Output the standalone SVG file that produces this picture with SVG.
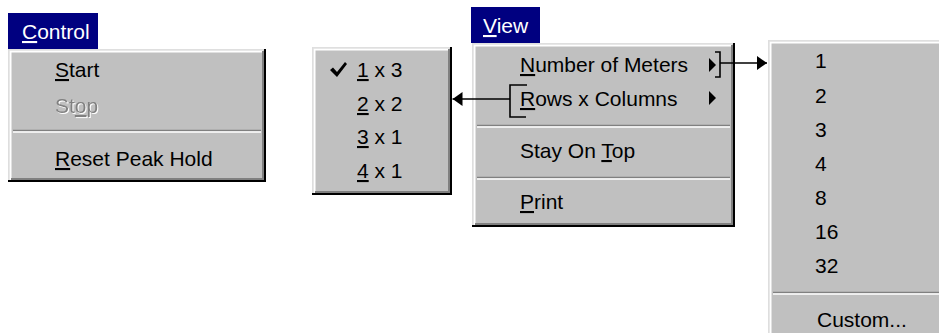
<svg xmlns="http://www.w3.org/2000/svg" width="939" height="333" viewBox="0 0 939 333">
<style>
text{font-family:"Liberation Sans",Arial,sans-serif;font-size:21px;fill:#000}
.t{fill:#fff}
.u{text-decoration:underline}
.bg{fill:#c0c0c0}
.title{fill:#000080}
.hl{stroke:#fff;stroke-width:2;fill:none}
.lt{stroke:#dfdfdf;stroke-width:1.5;fill:none}
.sh{stroke:#808080;stroke-width:2;fill:none}
.dk{stroke:#000;stroke-width:2;fill:none}
.sepd{stroke:#808080;stroke-width:1.5}
.sepl{stroke:#fff;stroke-width:1.5}
.dis{fill:#808080;filter:url(#emb)}
.con{stroke:#000;stroke-width:1.6;fill:none}
</style>
<defs>
<marker id="ah" viewBox="0 0 10 14" refX="10" refY="7" markerWidth="10" markerHeight="14" markerUnits="userSpaceOnUse" orient="auto">
<path d="M0,0 L10,7 L0,14 Z" fill="#000"/>
</marker>
<filter id="emb" x="-5%" y="-10%" width="115%" height="130%">
<feOffset in="SourceAlpha" dx="1" dy="1" result="o"/>
<feFlood flood-color="#fff"/>
<feComposite in2="o" operator="in" result="w"/>
<feMerge><feMergeNode in="w"/><feMergeNode in="SourceGraphic"/></feMerge>
</filter>
</defs>
<rect width="939" height="333" fill="#fff"/>

<g id="control-title">
<rect class="title" x="8" y="13" width="90" height="36"/>
<text class="t" x="22" y="39"><tspan class="u">C</tspan>ontrol</text>
</g>

<g id="control-menu">
<rect class="bg" x="8" y="49" width="258" height="133"/>
<path class="lt" d="M8.8,181 V49.8 H265"/>
<path class="hl" d="M10.5,180 V51.5 H263"/>
<path class="sh" d="M11,179 H263 V51"/>
<path class="dk" d="M8,181 H265 V49"/>
<text x="55" y="77"><tspan class="u">S</tspan>tart</text>
<text class="dis" x="55" y="113">St<tspan class="u">o</tspan>p</text>
<line class="sepd" x1="13" y1="130.5" x2="261" y2="130.5"/>
<line class="sepl" x1="13" y1="132" x2="261" y2="132"/>
<text x="55" y="166"><tspan class="u">R</tspan>eset Peak Hold</text>
</g>

<g id="layout-menu">
<rect class="bg" x="312" y="47" width="140" height="148"/>
<path class="lt" d="M312.8,194 V47.8 H451"/>
<path class="hl" d="M314.5,193 V49.5 H449"/>
<path class="sh" d="M315,192 H449 V49"/>
<path class="dk" d="M312,194 H451 V47"/>
<path d="M330,70 L333,67.5 L337,72 L345,62 L347,64 L337,77 Z" fill="#000"/>
<text x="357" y="77"><tspan class="u">1</tspan> x 3</text>
<text x="357" y="111"><tspan class="u">2</tspan> x 2</text>
<text x="357" y="144"><tspan class="u">3</tspan> x 1</text>
<text x="357" y="178"><tspan class="u">4</tspan> x 1</text>
</g>

<g id="view-title">
<rect class="title" x="471" y="7" width="69" height="36"/>
<text class="t" x="483" y="33"><tspan class="u">V</tspan>iew</text>
</g>

<g id="view-menu">
<rect class="bg" x="472" y="43" width="263" height="184"/>
<path class="lt" d="M472.8,226 V43.8 H734"/>
<path class="hl" d="M474.5,225 V45.5 H732"/>
<path class="sh" d="M475,224 H732 V45"/>
<path class="dk" d="M472,226 H734 V43"/>
<text x="520" y="72"><tspan class="u">N</tspan>umber of Meters</text>
<path d="M709,58 L716,65 L709,72 Z" fill="#000"/>
<text x="520" y="106"><tspan class="u">R</tspan>ows x Columns</text>
<path d="M709,91 L716,98 L709,105 Z" fill="#000"/>
<line class="sepd" x1="477" y1="125.5" x2="730" y2="125.5"/>
<line class="sepl" x1="477" y1="127" x2="730" y2="127"/>
<text x="520" y="158">Stay On <tspan class="u">T</tspan>op</text>
<line class="sepd" x1="477" y1="177.5" x2="730" y2="177.5"/>
<line class="sepl" x1="477" y1="179" x2="730" y2="179"/>
<text x="520" y="209"><tspan class="u">P</tspan>rint</text>
</g>

<g id="meters-menu">
<rect class="bg" x="768" y="40" width="171" height="293"/>
<path class="lt" d="M768.8,333 V40.8 H939"/>
<path class="hl" d="M770.5,333 V42.5 H939"/>
<text x="815" y="68">1</text>
<text x="815" y="103">2</text>
<text x="815" y="137">3</text>
<text x="815" y="171">4</text>
<text x="815" y="205">8</text>
<text x="815" y="239">16</text>
<text x="815" y="273">32</text>
<line class="sepd" x1="773" y1="292.5" x2="939" y2="292.5"/>
<line class="sepl" x1="773" y1="294" x2="939" y2="294"/>
<text x="817" y="327">Custom...</text>
</g>

<g id="connectors">
<path class="con" d="M715,52 H720 V77 H715"/>
<path class="con" d="M720,63 H767" marker-end="url(#ah)"/>
<path class="con" d="M527,85 H510 V117 H526"/>
<path class="con" d="M510,99 H452.5" marker-end="url(#ah)"/>
</g>
</svg>
